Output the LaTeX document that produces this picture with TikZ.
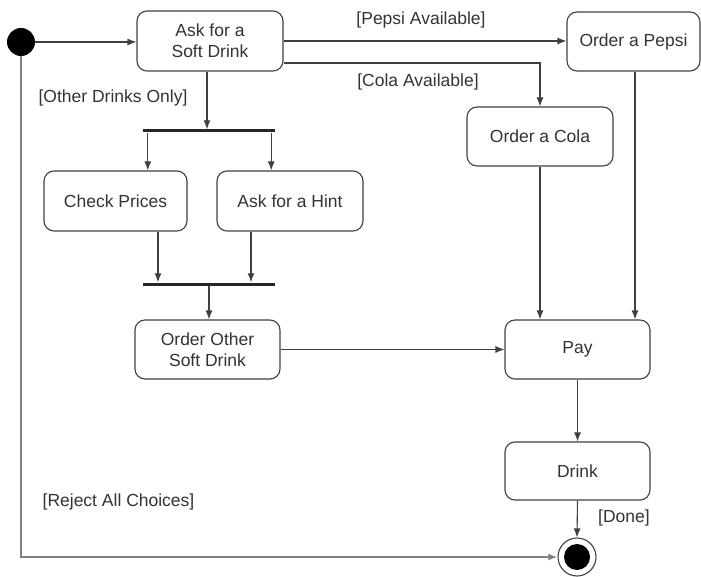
\documentclass[tikz,border=0pt]{standalone}
\usepackage{fontspec}
\setmainfont{Liberation Sans}
\usetikzlibrary{arrows.meta,calc}
\begin{document}
\begin{tikzpicture}[x=1pt,y=-1pt,
  every node/.style={font=\fontsize{17.5}{21}\selectfont, text=black!80},
  act/.style={draw=black!75, line width=1.1pt, rounded corners=10pt, fill=white,
    align=center, inner sep=0pt},
  flow/.style={draw=black!75, line width=1.1pt, -{Latex[length=9pt,width=7pt]}},
  reject/.style={draw=black!50, line width=2pt, -{Latex[length=9pt,width=7pt,fill=black!80]}},
  syncbar/.style={fill=black!85, inner sep=0pt, minimum height=3pt, minimum width=132pt},
  guard/.style={inner sep=0pt}]
\useasboundingbox (0,0) rectangle (701,577);

% initial and final states
\node[circle, fill=black, minimum size=28pt, inner sep=0pt] (start) at (21,42) {};
\node[circle, draw=black!75, line width=1.1pt, fill=white, minimum size=38pt, inner sep=0pt] (end) at (577,557) {};
\node[circle, fill=black, minimum size=26pt, inner sep=0pt] (endin) at (end.center) {};

% activities
\node[act, minimum width=146pt, minimum height=60pt] (ask)   at (210,41)    {Ask for a\\Soft Drink};
\node[act, minimum width=133pt, minimum height=59pt] (pepsi) at (633.5,41.5) {Order a Pepsi};
\node[act, minimum width=146pt, minimum height=59pt] (cola)  at (540,136.5) {Order a Cola};
\node[act, minimum width=143pt, minimum height=60pt] (check) at (115.5,201) {Check Prices};
\node[act, minimum width=146pt, minimum height=60pt] (hint)  at (290,201)   {Ask for a Hint};
\node[act, minimum width=145pt, minimum height=59pt] (other) at (207.5,349.5) {Order Other\\Soft Drink};
\node[act, minimum width=145pt, minimum height=59pt] (pay)   at (577.5,349.5) {Pay};
\node[act, minimum width=145pt, minimum height=58pt] (drink) at (577.5,471) {Drink};

% fork and join bars
\node[syncbar] (fork) at (209,131) {};
\node[syncbar] (join) at (209,284) {};

% exit points of the transitions
\coordinate (askcola) at ($(ask.east)+(0,22)$);
\coordinate (askfork) at ($(ask.south)+(-3,0)$);
\coordinate (forkl) at ($(fork.south west)+(5,0)$);
\coordinate (forkr) at ($(fork.south east)+(-4,0)$);
\coordinate (checkj) at ($(check.south)+(42.5,0)$);
\coordinate (hintj) at ($(hint.south)+(-39,0)$);
\coordinate (pepsip) at ($(pepsi.south)+(1.5,0)$);

% transitions
\draw[flow] (start.east) -- (ask.west |- start.east);
\draw[flow] (ask.east) -- (pepsi.west |- ask.east);
\draw[flow] (askcola) -| (cola.north);
\draw[flow] (askfork) -- (askfork |- fork.north);
\draw[flow] (forkl) -- (forkl |- check.north);
\draw[flow] (forkr) -- (forkr |- hint.north);
\draw[flow] (checkj) -- (checkj |- join.north);
\draw[flow] (hintj) -- (hintj |- join.north);
\draw[flow] (join.south) -- (join.south |- other.north);
\draw[flow] (other.east) -- (pay.west);
\draw[flow] (cola.south) -- (cola.south |- pay.north);
\draw[flow] (pepsip) -- (pepsip |- pay.north);
\draw[flow] (pay.south) -- (drink.north);
\draw[flow] (drink.south) -- (end.north);
\draw[reject] (start.south) |- (end.west);

% guards
\node[guard] (gpepsi)  at (421,20)    {[Pepsi Available]};
\node[guard] (gcola)   at (418,82)    {[Cola Available]};
\node[guard] (gother)  at (113,98)    {[Other Drinks Only]};
\node[guard] (gdone)   at (624,518)   {[Done]};
\node[guard] (greject) at (118.5,502) {[Reject All Choices]};
\end{tikzpicture}
\end{document}
